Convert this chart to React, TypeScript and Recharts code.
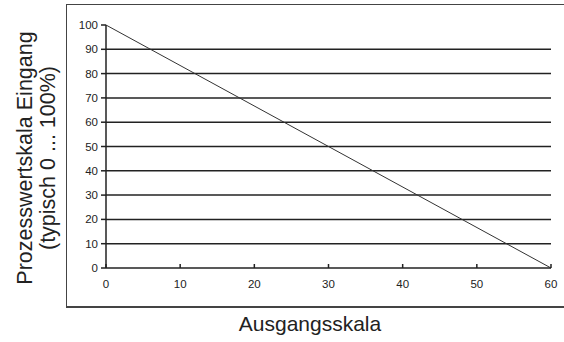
import { CartesianGrid, Line, LineChart, XAxis, YAxis } from "recharts";

const xTicks = [0, 10, 20, 30, 40, 50, 60];
const yTicks = [0, 10, 20, 30, 40, 50, 60, 70, 80, 90, 100];
const gridValues = [10, 20, 30, 40, 50, 60, 70, 80, 90];
const lineData = [
  { x: 0, y: 100 },
  { x: 60, y: 0 }
];

const font = "'Liberation Sans', Arial, sans-serif";
const ink = "#222";

export default function App() {
  return (
    <div style={{ position: "absolute", left: 0, top: 0, width: 564, height: 342, background: "#fff", fontFamily: font }}>
      <div
        style={{
          position: "absolute",
          left: 66,
          top: 4,
          width: 500,
          height: 301,
          borderLeft: "1.5px solid #444",
          borderTop: "1.5px solid #444",
          borderBottom: "2px solid #444"
        }}
      />
      <LineChart width={564} height={342} data={lineData} margin={{ top: 25, right: 13, bottom: 44, left: 66 }}>
        <CartesianGrid vertical={false} horizontalValues={gridValues} stroke={ink} strokeWidth={1.5} />
        <XAxis
          type="number"
          dataKey="x"
          domain={[0, 60]}
          ticks={xTicks}
          height={30}
          stroke={ink}
          strokeWidth={1.5}
          tickSize={-4}
          tickMargin={16}
          tick={{ fontSize: 11.5, fill: ink, fontFamily: font }}
        />
        <YAxis
          type="number"
          dataKey="y"
          domain={[0, 100]}
          ticks={yTicks}
          width={40}
          stroke={ink}
          strokeWidth={1.5}
          tickSize={5}
          tickMargin={3}
          tick={{ fontSize: 11.5, fill: ink, fontFamily: font }}
        />
        <Line type="linear" dataKey="y" stroke="#333" strokeWidth={1} dot={false} isAnimationActive={false} />
      </LineChart>
      <div
        style={{
          position: "absolute",
          left: 37,
          top: 158,
          width: 320,
          transform: "translate(-50%, -50%) rotate(-90deg)",
          textAlign: "center",
          fontSize: 21.5,
          lineHeight: "23px",
          color: ink
        }}
      >
        Prozesswertskala Eingang
        <br />
        (typisch 0 ... 100%)
      </div>
      <div
        style={{
          position: "absolute",
          left: 160,
          top: 312,
          width: 300,
          textAlign: "center",
          fontSize: 21,
          color: ink
        }}
      >
        Ausgangsskala
      </div>
    </div>
  );
}
